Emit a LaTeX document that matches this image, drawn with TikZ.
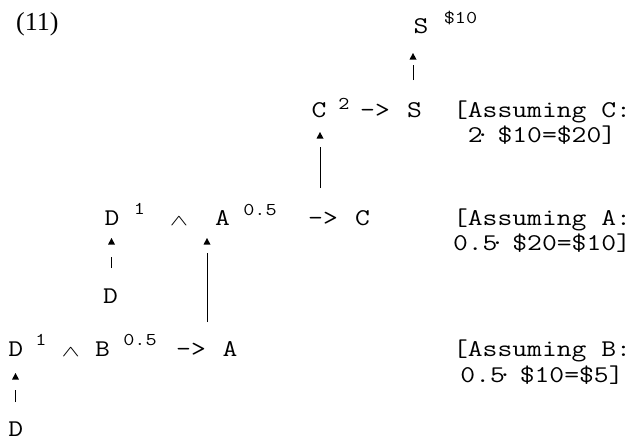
\documentclass[tikz,border=0pt]{standalone}
\usepackage{fontspec}
\usepackage{graphicx}
\setmainfont{Liberation Serif}
\newfontfamily\cour{Latin Modern Mono}[FakeStretch=1.2]
\usetikzlibrary{calc}
% narrow centred dot that still takes one monospace cell
\newcommand\mdot{\makebox[0pt]{·}\hphantom{0}}
\newcommand\andsym{\scalebox{1.1}[0.62]{$\wedge$}}

\begin{document}
\begin{tikzpicture}[x=1pt,y=-1pt,
  tok/.style={anchor=base,inner sep=0pt,font=\cour\fontsize{24}{24}\selectfont},
  supr/.style={anchor=base,inner sep=0pt,font=\cour\fontsize{18}{18}\selectfont},
  andop/.style={anchor=base,inner sep=0pt,font=\fontsize{24}{24}\selectfont},
  note/.style={anchor=base,inner sep=0pt,font=\cour\fontsize{24}{24}\selectfont},
  shaft/.style={line width=0.8pt},
  tip/.style={fill=black}]
\useasboundingbox (0,0) rectangle (636,440);

% example number
\node[anchor=base west,inner sep=0pt,font=\fontsize{26}{26}\selectfont] (num) at (16,30) {(11)};

% goal
\node[tok]  (S1)  at (421,33) {S};
\node[supr] (val) at (460.5,23) {\$10};

% rule C -> S
\node[tok]  (C2)   at (319,117) {C};
\node[supr] (w2)   at (344,109) {2};
\node[tok]  (imp2) at (375,117) {->};
\node[tok]  (S2)   at (414.5,117) {S};
\node[note] (nC1)  at (542,117) {[Assuming C:};
\node[note] (nC2)  at (542,142) {2\mdot\$10=\$20]};

% rule D and A -> C
\node[tok]   (D3)   at (112,225) {D};
\node[supr]  (w3a)  at (139.5,214) {1};
\node[andop] (and3) at (179,225) {\andsym};
\node[tok]   (A3)   at (222.5,225) {A};
\node[supr]  (w3b)  at (260,215) {0.5};
\node[tok]   (imp3) at (323,225) {->};
\node[tok]   (C3)   at (362.5,225) {C};
\node[note]  (nA1)  at (542,225) {[Assuming A:};
\node[note]  (nA2)  at (542,250) {0.5\mdot\$20=\$10]};
\node[tok]   (D3b)  at (110.5,303) {D};

% rule D and B -> A
\node[tok]   (D4)   at (15.8,356) {D};
\node[supr]  (w4a)  at (41,345) {1};
\node[andop] (and4) at (70.8,356) {\andsym};
\node[tok]   (B4)   at (102.5,356) {B};
\node[supr]  (w4b)  at (140,345) {0.5};
\node[tok]   (imp4) at (191,356) {->};
\node[tok]   (A4)   at (230,356) {A};
\node[note]  (nB1)  at (542,356) {[Assuming B:};
\node[note]  (nB2)  at (542,382) {0.5\mdot\$10=\$5]};
\node[tok]   (D5)   at (15.8,436) {D};

% connectors: shaft, then a detached triangular head
\draw[shaft] ($(S2.base)+(-1.5,-37)$) -- ($(S1.base)+(-8,32)$);
\fill[tip] ($(S1.base)+(-8,20)$) -- ++(-3.5,6.5) -- ++(7,0) -- cycle;

\draw[shaft] ($(imp3.base)+(-3,-37)$) -- ($(C2.base)+(1,30)$);
\fill[tip] ($(C2.base)+(1,15)$) -- ++(-3.5,6.5) -- ++(7,0) -- cycle;

\draw[shaft] ($(D3b.base)+(1,-35)$) -- ($(D3.base)+(-0.5,32)$);
\fill[tip] ($(D3.base)+(-0.5,13)$) -- ++(-3.5,6.5) -- ++(7,0) -- cycle;

\draw[shaft] ($(imp4.base)+(16,-34)$) -- ($(A3.base)+(-15.5,28)$);
\fill[tip] ($(A3.base)+(-15.5,13)$) -- ++(-3.5,6.5) -- ++(7,0) -- cycle;

\draw[shaft] ($(D5.base)+(-0.3,-34)$) -- ($(D4.base)+(-0.3,34)$);
\fill[tip] ($(D4.base)+(-0.3,17)$) -- ++(-3.5,6.5) -- ++(7,0) -- cycle;
\end{tikzpicture}
\end{document}
